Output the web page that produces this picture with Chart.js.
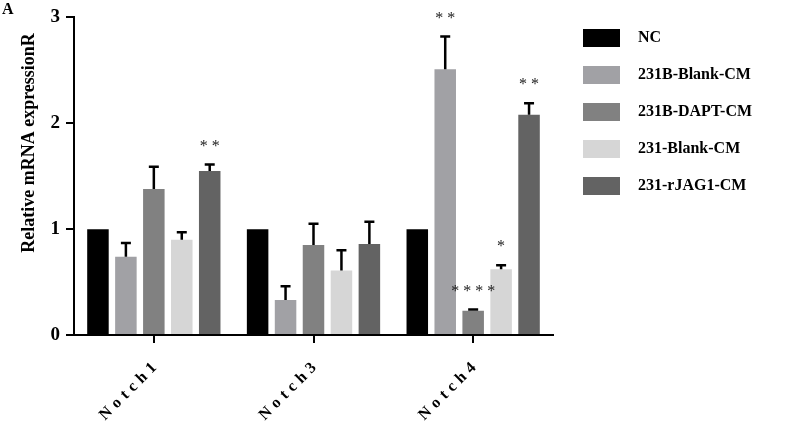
<!DOCTYPE html>
<html><head><meta charset="utf-8">
<script src="https://cdn.jsdelivr.net/npm/chart.js@4/dist/chart.umd.min.js"></script>
<style>html,body{margin:0;padding:0;background:#fff}#w{position:relative;width:787px;height:421px}</style>
</head><body><div id="w"><canvas id="c" width="787" height="421"></canvas></div>
<script>
const categories = ["Notch1", "Notch3", "Notch4"];
const seriesNames = ["NC", "231B-Blank-CM", "231B-DAPT-CM", "231-Blank-CM", "231-rJAG1-CM"];
const seriesColors = ["#000000", "#a1a1a5", "#818181", "#d6d6d6", "#636363"];
const valNC      = [1.00, 1.00, 1.00];
const valBBlank  = [0.74, 0.33, 2.51];
const valBDAPT   = [1.38, 0.85, 0.23];
const valBlank   = [0.90, 0.61, 0.62];
const valJAG1    = [1.55, 0.86, 2.08];
const errNC      = [0, 0, 0];
const errBBlank  = [0.13, 0.13, 0.31];
const errBDAPT   = [0.21, 0.20, 0.01];
const errBlank   = [0.07, 0.19, 0.04];
const errJAG1    = [0.06, 0.21, 0.11];
const sigNC      = ["", "", ""];
const sigBBlank  = ["", "", "**"];
const sigBDAPT   = ["", "", "****"];
const sigBlank   = ["", "", "*"];
const sigJAG1    = ["**", "", "**"];
const yTicks = [0, 1, 2, 3];
const yTitle = "Relative mRNA expressionR";
const panelLabel = "A";

const values = [valNC, valBBlank, valBDAPT, valBlank, valJAG1];
const errs = [errNC, errBBlank, errBDAPT, errBlank, errJAG1];
const sigs = [sigNC, sigBBlank, sigBDAPT, sigBlank, sigJAG1];
const SERIF = "'Liberation Serif','Times New Roman',serif";

const extras = {
  id: 'extras',
  afterDatasetsDraw(chart) {
    const ctx = chart.ctx;
    const y = chart.scales.y;
    ctx.save();
    chart.data.datasets.forEach((ds, di) => {
      const meta = chart.getDatasetMeta(di);
      meta.data.forEach((bar, i) => {
        const e = errs[di][i];
        if (!e) return;
        const top = y.getPixelForValue(values[di][i] + e);
        ctx.strokeStyle = '#000';
        ctx.lineWidth = 2.5;
        ctx.beginPath();
        ctx.moveTo(bar.x, bar.y);
        ctx.lineTo(bar.x, top);
        ctx.moveTo(bar.x - 5, top);
        ctx.lineTo(bar.x + 5, top);
        ctx.stroke();
      });
    });
    ctx.fillStyle = '#1a1a1a';
    ctx.font = "16px " + SERIF;
    ctx.textAlign = 'center';
    ctx.textBaseline = 'middle';
    chart.data.datasets.forEach((ds, di) => {
      const meta = chart.getDatasetMeta(di);
      meta.data.forEach((bar, i) => {
        const s = sigs[di][i];
        if (!s) return;
        const top = y.getPixelForValue(values[di][i] + errs[di][i]);
        ctx.fillText(s.split('').join(' '), bar.x, top - 18);
      });
    });
    ctx.restore();
  },
  afterDraw(chart) {
    const ctx = chart.ctx;
    const x = chart.scales.x;
    ctx.save();
    ctx.fillStyle = '#000';
    ctx.font = "bold 16px " + SERIF;
    ctx.letterSpacing = '5px';
    ctx.textAlign = 'right';
    ctx.textBaseline = 'middle';
    categories.forEach((c, i) => {
      const px = x.getPixelForValue(i);
      ctx.save();
      ctx.translate(px + 4, 362);
      ctx.rotate(-Math.PI / 4);
      ctx.fillText(c, 0, 0);
      ctx.restore();
    });
    ctx.letterSpacing = '0px';
    // y title
    ctx.save();
    ctx.font = "bold 18px " + SERIF;
    ctx.textAlign = 'center';
    ctx.textBaseline = 'middle';
    ctx.translate(29, 143);
    ctx.rotate(-Math.PI / 2);
    ctx.fillText(yTitle, 0, 0);
    ctx.restore();
    // legend
    ctx.font = "bold 16px " + SERIF;
    ctx.textAlign = 'left';
    ctx.textBaseline = 'middle';
    seriesNames.forEach((n, i) => {
      const cy = 38 + i * 37;
      ctx.fillStyle = seriesColors[i];
      ctx.fillRect(583, cy - 9, 37, 18);
      ctx.fillStyle = '#000';
      ctx.fillText(n, 638, cy);
    });
    ctx.font = "bold 16px " + SERIF;
    ctx.textBaseline = 'top';
    ctx.fillText(panelLabel, 2, 2);
    ctx.restore();
  }
};

new Chart(document.getElementById('c'), {
  type: 'bar',
  data: {
    labels: categories,
    datasets: seriesNames.map((n, i) => ({
      label: n,
      data: values[i],
      backgroundColor: seriesColors[i],
      borderWidth: 0,
      barPercentage: 0.77,
      categoryPercentage: 0.875
    }))
  },
  options: {
    responsive: false,
    animation: false,
    events: [],
    layout: { padding: { left: 20, top: 16, right: 234, bottom: 0 } },
    plugins: { legend: { display: false }, tooltip: { enabled: false } },
    scales: {
      x: {
        afterFit(s) { s.height = 86; },
        grid: { display: true, drawOnChartArea: false, offset: false, color: '#000', lineWidth: 2, tickLength: 8 },
        border: { display: true, color: '#000', width: 2 },
        ticks: { display: false }
      },
      y: {
        min: 0, max: 3,
        afterFit(s) { s.width = 54; },
        afterBuildTicks(s) { s.ticks = yTicks.map(v => ({ value: v })); },
        grid: { display: true, drawOnChartArea: false, color: '#000', lineWidth: 2, tickLength: 8 },
        border: { display: true, color: '#000', width: 2 },
        ticks: { color: '#000', padding: 6, font: { family: SERIF, size: 19, weight: 'bold' } },
        title: { display: false }
      }
    }
  },
  plugins: [extras]
});
</script></body></html>
